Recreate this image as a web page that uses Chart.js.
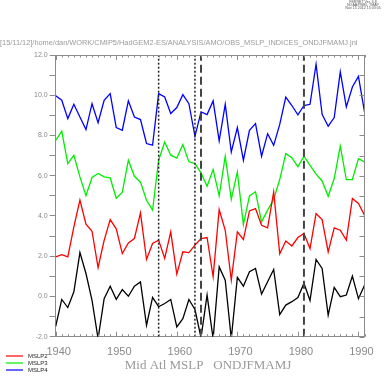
<!DOCTYPE html>
<html><head><meta charset="utf-8">
<script src="https://cdn.jsdelivr.net/npm/chart.js@4/dist/chart.umd.min.js"></script>
<style>html,body{margin:0;padding:0;background:#fff;}#wrap{width:387px;height:377px;position:relative;}</style>
</head><body><div id="wrap"><canvas id="c" width="387" height="377"></canvas></div>
<script>
const years = [1940,1941,1942,1943,1944,1945,1946,1947,1948,1949,1950,1951,1952,1953,1954,1955,1956,1957,1958,1959,1960,1961,1962,1963,1964,1965,1966,1967,1968,1969,1970,1971,1972,1973,1974,1975,1976,1977,1978,1979,1980,1981,1982,1983,1984,1985,1986,1987,1988,1989,1990,1991];
const mslp1 = [-1.48,-0.15,-0.55,0.23,2.18,1.14,-0.19,-2.1,-0.11,0.51,-0.14,0.34,0.01,0.51,0.72,-1.43,-0.05,-0.51,-0.35,-0.15,-1.51,-1.10,-0.15,-0.65,-2.05,0.07,-2.1,1.47,0.81,-2.1,0.95,0.51,1.23,1.39,0.12,0.73,1.34,-0.9,-0.43,-0.26,-0.05,0.65,-0.2,1.84,1.39,-0.93,0.45,-0.01,0.07,1.01,-0.11,0.56];
const mslp2 = [1.97,2.08,1.97,3.46,4.79,3.59,3.24,1.44,2.79,3.82,3.36,2.13,2.66,2.88,4.15,1.84,2.63,2.80,1.89,3.21,1.11,2.22,2.18,2.55,2.88,2.93,0.98,4.32,3.29,0.81,3.21,2.83,4.25,4.37,3.54,3.41,5.20,2.12,2.76,2.51,2.93,3.13,2.38,4.12,3.82,2.21,3.41,3.29,2.80,4.87,4.62,4.04];
const mslp3 = [7.76,8.21,6.60,7.02,5.94,5.01,5.91,6.11,5.94,5.89,4.88,5.18,6.77,5.97,5.68,4.78,4.29,6.77,7.68,7.02,6.88,7.55,6.69,6.60,6.14,5.48,6.31,5.00,6.97,4.83,6.19,3.57,5.00,5.20,3.71,4.29,4.82,5.81,7.10,6.90,6.44,6.97,6.52,6.08,5.74,4.98,5.86,7.47,5.81,5.81,6.85,6.69];
const mslp4 = [9.97,9.75,8.84,9.55,8.92,8.29,9.58,8.64,9.75,10.08,8.39,8.26,9.72,8.92,8.79,7.60,7.52,10.08,9.91,9.09,9.39,10.03,9.58,7.96,9.17,9.04,9.72,7.73,9.55,7.18,8.39,6.77,8.26,8.59,6.97,8.09,7.51,8.55,9.91,9.49,9.03,9.49,9.55,11.54,9.05,8.46,8.89,11.16,9.42,10.41,10.94,9.17];
const yTicks = [-2,-1,0,1,2,3,4,5,6,7,8,9,10,11,12];
const xTickLabels = [1940,1950,1960,1970,1980,1990];
const dottedYears = [1957,1963];
const dashedYears = [1964,1981];
const legendNames = ['MSLP2','MSLP3','MSLP4'];
const legendColors = ['#ff0000','#00ee00','#0000ff'];
const headerText = '[15/11/12]/home/dan/WORK/CMIP5/HadGEM2-ES/ANALYSIS/AMO/OBS_MSLP_INDICES_ONDJFMAMJ.jnl';
const stampLines = ['FERRET Ver. 6.8','NOAA/PMEL TMAP','Nov 15 2012 15:03:05'];
const titleText = 'Mid Atl MSLP   ONDJFMAMJ';

const axisColor = '#8c8c8c';
const pts = v => years.map((yr,i)=>({x:yr,y:v[i]}));
const vline = (yr,dash,w,col) => ({data:[{x:yr,y:-2},{x:yr,y:12}],borderColor:col,borderWidth:w,borderDash:dash,pointRadius:0,fill:false,order:0});

const datasets = [
  {label:'MSLP1',data:pts(mslp1),borderColor:'#000000',borderWidth:1.3,pointRadius:0,tension:0,order:1},
  {label:'MSLP2',data:pts(mslp2),borderColor:'#ff0000',borderWidth:1.3,pointRadius:0,tension:0,order:1},
  {label:'MSLP3',data:pts(mslp3),borderColor:'#00ee00',borderWidth:1.3,pointRadius:0,tension:0,order:1},
  {label:'MSLP4',data:pts(mslp4),borderColor:'#0000ff',borderWidth:1.3,pointRadius:0,tension:0,order:1},
  ...dottedYears.map(yr=>vline(yr,[2,2],1.5,'#222222')),
  ...dashedYears.map(yr=>vline(yr,[8,4],2,'#444444'))
];

const framePlugin = {
  id:'frame',
  afterDatasetsDraw(chart){
    const {ctx, chartArea:a, scales:{x,y}} = chart;
    ctx.save();
    ctx.strokeStyle = axisColor; ctx.lineWidth = 1;
    ctx.beginPath();
    ctx.moveTo(a.left,a.top+0.5); ctx.lineTo(a.right,a.top+0.5);
    ctx.moveTo(a.right,a.top); ctx.lineTo(a.right,a.bottom);
    for(let yr=years[0]; yr<=years[years.length-1]; yr++){
      const px = Math.round(x.getPixelForValue(yr))+0.5;
      const len = (yr%10===0)?5:2.5;
      ctx.moveTo(px,a.top); ctx.lineTo(px,a.top+len);
      ctx.moveTo(px,a.bottom); ctx.lineTo(px,a.bottom-len);
    }
    yTicks.forEach(v=>{
      const py = Math.round(y.getPixelForValue(v))+0.5;
      ctx.moveTo(a.right,py); ctx.lineTo(a.right-5,py);
    });
    ctx.stroke();
    ctx.restore();
  },
  afterDraw(chart){
    const ctx = chart.ctx;
    ctx.save();
    ctx.fillStyle = '#9a9a9a';
    ctx.textBaseline = 'middle';
    ctx.textAlign = 'left';
    ctx.font = '8px "Liberation Sans"';
    const w = ctx.measureText(headerText).width;
    const fs = 8*358/w;
    ctx.font = fs.toFixed(2)+'px "Liberation Sans"';
    ctx.fillText(headerText, 0, 42.5);
    ctx.fillStyle = '#555';
    ctx.textAlign = 'center';
    ctx.font = '3.6px "Liberation Sans"';
    stampLines.forEach((t,i)=>ctx.fillText(t, 363, 2+i*3.2));
    ctx.fillStyle = '#9a9a9a';
    ctx.font = '13px "Liberation Serif"';
    ctx.textAlign = 'center';
    ctx.fillText(titleText, 208, 365.5);
    ctx.textAlign = 'left';
    ctx.font = '6px "Liberation Sans"';
    legendNames.forEach((n,i)=>{
      const yy = 356 + i*7;
      ctx.strokeStyle = legendColors[i]; ctx.lineWidth = 1.2;
      ctx.beginPath(); ctx.moveTo(6,yy); ctx.lineTo(23,yy); ctx.stroke();
      ctx.fillStyle = '#222';
      ctx.fillText(n, 28, yy);
    });
    ctx.restore();
  }
};

new Chart(document.getElementById('c'), {
  type:'line',
  data:{datasets},
  options:{
    responsive:false, animation:false, devicePixelRatio:1,
    layout:{padding:{top:55,right:22.5,left:0,bottom:0}},
    plugins:{legend:{display:false},tooltip:{enabled:false},title:{display:false}},
    scales:{
      x:{type:'linear',min:1940,max:1991,
        afterBuildTicks:s=>{s.ticks = xTickLabels.map(v=>({value:v+0.5}));},
        ticks:{callback:v=>String(Math.floor(v)),color:'#8a8a8a',font:{family:'"Liberation Sans"',size:11},padding:9,maxRotation:0,autoSkip:false},
        grid:{display:false,drawTicks:false},
        border:{display:true,color:axisColor,width:1},
        afterFit:s=>{s.height=40.3;}
      },
      y:{min:-2,max:12,
        afterBuildTicks:s=>{s.ticks = yTicks.map(v=>({value:v}));},
        ticks:{callback:v=>(v%2===0? v.toFixed(1):''),color:'#8a8a8a',font:{family:'"Liberation Sans"',size:7},padding:2,autoSkip:false},
        grid:{display:true,drawOnChartArea:false,drawTicks:true,tickLength:6,color:axisColor},
        border:{display:true,color:axisColor,width:1},
        afterFit:s=>{s.width=55.7;}
      }
    }
  },
  plugins:[framePlugin]
});
</script></body></html>
